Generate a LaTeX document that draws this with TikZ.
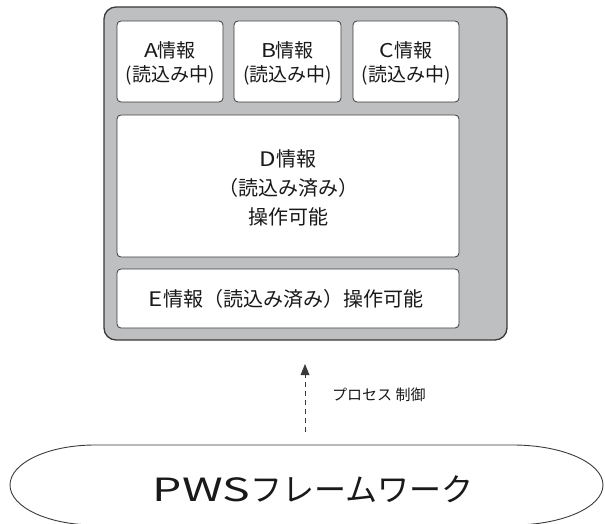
\documentclass[tikz,border=0pt]{standalone}
\usepackage{fontspec}
\setmainfont{Noto Sans CJK JP}
\usetikzlibrary{arrows.meta}
\definecolor{panelgray}{HTML}{BEBFC1}
\definecolor{edgegray}{HTML}{3A3A3A}
\tikzset{
  infobox/.style={draw=edgegray, line width=0.8pt, fill=white, rounded corners=4pt},
  boxtext/.style={font=\fontsize{19}{24}\selectfont, align=center, inner sep=0pt, text=black!90},
  ctrl/.style={dash pattern=on 5pt off 4pt, line width=1pt, -{Triangle[length=11pt,width=9pt,line width=0pt]}},
}
\begin{document}
\begin{tikzpicture}[x=1pt,y=-1pt]
\useasboundingbox (0,0) rectangle (605,524);
% outer panel
\draw[fill=panelgray, draw=edgegray, line width=1.3pt, rounded corners=12pt] (104,7) rectangle (507,340);
% small boxes
\draw[infobox] (117,21) rectangle (223,102);
\draw[infobox] (234,21) rectangle (341,102);
\draw[infobox] (353,21) rectangle (459,102);
\node[boxtext] (A) at (170,63) {\scalebox{1.2}[1]{A}情報\\(読込み中)};
\node[boxtext] (B) at (287.5,63) {\scalebox{1.2}[1]{B}情報\\(読込み中)};
\node[boxtext] (C) at (406,63) {\scalebox{1.2}[1]{C}情報\\(読込み中)};
% D box
\draw[infobox] (117,115) rectangle (459,257);
\node[boxtext, font=\fontsize{20}{29}\selectfont] (D) at (288,188) {\scalebox{1.2}[1]{D}情報\\（読込み済み）\\操作可能};
% E box
\draw[infobox] (117,269) rectangle (459,328);
\node[boxtext, font=\fontsize{20}{24}\selectfont] (E) at (286,299) {\scalebox{1.2}[1]{E}情報（読込み済み）操作可能};
% framework shape
\draw[edgegray, line width=0.9pt] (95,445) -- (513,445)
  arc[start angle=270, end angle=450, x radius=90, y radius=40]
  -- (95,525)
  arc[start angle=90, end angle=270, x radius=85, y radius=40] -- cycle;
\node[inner sep=0pt, font=\fontsize{32}{36}\selectfont, text=black!90] (F) at (313,489) {\scalebox{1.45}[1]{PWS}フレームワーク};
% arrow
\coordinate (arrowstart) at (305,432);
\coordinate (arrowend) at (305,364);
\draw[ctrl, edgegray] (arrowstart) -- (arrowend);
\node[anchor=west, inner sep=0pt, font=\fontsize{15}{18}\selectfont, text=black!90] (lbl) at (332,395) {プロセス 制御};
\end{tikzpicture}
\end{document}
